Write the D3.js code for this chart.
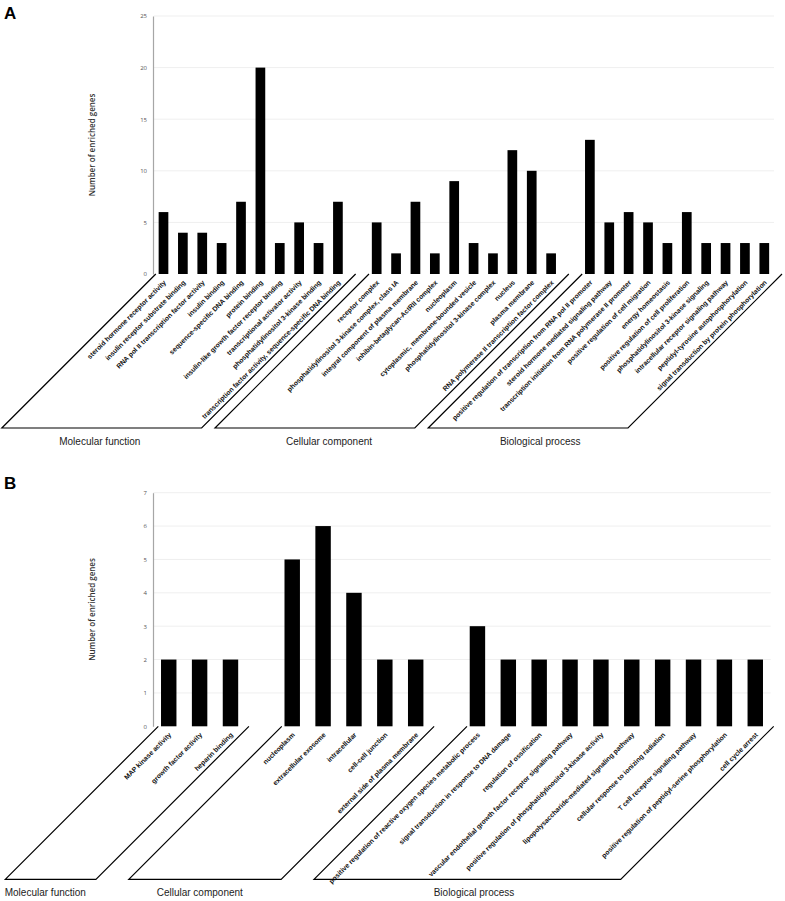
<!DOCTYPE html>
<html>
<head>
<meta charset="utf-8">
<script src="https://cdn.jsdelivr.net/npm/d3@7"></script>
<style>
  body { margin: 0; background: #fff; }
  svg { display: block; }
</style>
</head>
<body>
<div id="chart"></div>
<script>
// ---- data ----
const groupNames = ["Molecular function", "Cellular component", "Biological process"];

// panel A
const mfTermsA = [
  "steroid hormone receptor activity",
  "insulin receptor substrate binding",
  "RNA pol II transcription factor activity",
  "insulin binding",
  "sequence-specific DNA binding",
  "protein binding",
  "insulin-like growth factor receptor binding",
  "transcriptional activator activity",
  "phosphatidylinositol 3-kinase binding",
  "transcription factor activity, sequence-specific DNA binding"
];
const mfCountsA = [6, 4, 4, 3, 7, 20, 3, 5, 3, 7];
const ccTermsA = [
  "receptor complex",
  "phosphatidylinositol 3-kinase complex, class IA",
  "integral component of plasma membrane",
  "inhibin-betaglycan-ActRII complex",
  "nucleoplasm",
  "cytoplasmic, membrane-bounded vesicle",
  "phosphatidylinositol 3-kinase complex",
  "nucleus",
  "plasma membrane",
  "RNA polymerase II transcription factor complex"
];
const ccCountsA = [5, 2, 7, 2, 9, 3, 2, 12, 10, 2];
const bpTermsA = [
  "positive regulation of transcription from RNA pol II promoter",
  "steroid hormone mediated signaling pathway",
  "transcription initiation from RNA polymerase II promoter",
  "positive regulation of cell migration",
  "energy homeostasis",
  "positive regulation of cell proliferation",
  "phosphatidylinositol 3-kinase signaling",
  "intracellular receptor signaling pathway",
  "peptidyl-tyrosine autophosphorylation",
  "signal transduction by protein phosphorylation"
];
const bpCountsA = [13, 5, 6, 5, 3, 6, 3, 3, 3, 3];
const yTicksA = [0, 5, 10, 15, 20, 25];

// panel B
const mfTermsB = ["MAP kinase activity", "growth factor activity", "heparin binding"];
const mfCountsB = [2, 2, 2];
const ccTermsB = [
  "nucleoplasm",
  "extracellular exosome",
  "intracellular",
  "cell-cell junction",
  "external side of plasma membrane"
];
const ccCountsB = [5, 6, 4, 2, 2];
const bpTermsB = [
  "positive regulation of reactive oxygen species metabolic process",
  "signal transduction in response to DNA damage",
  "regulation of ossification",
  "vascular endothelial growth factor receptor signaling pathway",
  "positive regulation of phosphatidylinositol 3-kinase activity",
  "lipopolysaccharide-mediated signaling pathway",
  "cellular response to ionizing radiation",
  "T cell receptor signaling pathway",
  "positive regulation of peptidyl-serine phosphorylation",
  "cell cycle arrest"
];
const bpCountsB = [3, 2, 2, 2, 2, 2, 2, 2, 2, 2];
const yTicksB = [0, 1, 2, 3, 4, 5, 6, 7];

const W = 785, H = 901;

const svg = d3.select("#chart").append("svg")
    .attr("width", W)
    .attr("height", H);

function drawPanel(p) {
  // one slot per term, plus an empty slot between groups
  let slots = [];
  p.groups.forEach(function(g, gi) {
    if (gi > 0) slots.push({ key: "gap" + gi, gap: true });
    g.terms.forEach(function(t, i) {
      slots.push({ key: gi + ":" + t, term: t, value: g.counts[i], group: gi });
    });
  });

  var x = d3.scaleBand()
      .domain(slots.map(function(d) { return d.key; }))
      .range(p.xRange)
      .paddingInner(0.5)
      .paddingOuter(0.25);

  var y = d3.scaleLinear()
      .domain([0, d3.max(p.ticks)])
      .range(p.yRange);

  var g = svg.append("g");
  var y0 = y(0);
  var step = x.step();

  // gridlines
  g.selectAll("line.grid")
    .data(p.ticks.slice(1))
    .enter().append("line")
      .attr("class", "grid")
      .attr("x1", p.xRange[0]).attr("x2", p.xRange[1])
      .attr("y1", function(d) { return y(d); })
      .attr("y2", function(d) { return y(d); })
      .attr("stroke", "#efefef")
      .attr("stroke-width", 1);

  // y axis
  var yAxis = d3.axisLeft(y)
      .tickValues(p.ticks)
      .tickFormat(d3.format("d"))
      .tickSize(0)
      .tickPadding(6);
  var ax = g.append("g")
      .attr("transform", "translate(" + p.axisX + ",0)")
      .call(yAxis);
  ax.select(".domain").attr("stroke", "#a6a6a6").attr("stroke-width", 1.2);
  ax.selectAll("text")
      .attr("font-family", "'Open Sans', sans-serif")
      .attr("font-size", 6)
      .attr("fill", "#555");

  // y title
  g.append("text")
      .attr("transform", "translate(" + p.titleX + "," + (y.range()[0] + y.range()[1]) / 2 + ") rotate(-90)")
      .attr("text-anchor", "middle")
      .attr("dy", "0.35em")
      .attr("font-family", "'Open Sans', sans-serif")
      .attr("font-weight", 600)
      .attr("font-size", 8)
      .attr("fill", "#333")
      .text("Number of enriched genes");

  var bars = slots.filter(function(d) { return !d.gap; });

  g.selectAll("rect.bar")
    .data(bars)
    .enter().append("rect")
      .attr("class", "bar")
      .attr("x", function(d) { return x(d.key); })
      .attr("width", x.bandwidth())
      .attr("y", function(d) { return y(d.value); })
      .attr("height", function(d) { return y0 - y(d.value); })
      .attr("fill", "#000");

  // slanted category labels
  g.selectAll("text.term")
    .data(bars)
    .enter().append("text")
      .attr("class", "term")
      .attr("transform", function(d) {
        var cx = x(d.key) + x.bandwidth() / 2;
        return "translate(" + (cx + 3) + "," + (y0 + 9) + ") rotate(-45)";
      })
      .attr("text-anchor", "end")
      .attr("font-family", "'Liberation Sans', Arial, sans-serif")
      .attr("font-weight", "bold")
      .attr("font-size", 6.8)
      .attr("fill", "#111")
      .text(function(d) { return d.term; });

  // open parallelogram under each group
  var hh = p.boxHeight;
  p.groups.forEach(function(grp, gi) {
    var first = x(gi + ":" + grp.terms[0]) - step * 0.25;
    var last = x(gi + ":" + grp.terms[grp.terms.length - 1]) + step * 0.75;
    var tl = first + p.boxPad[0], tr = last + p.boxPad[1];
    var path = d3.path();
    path.moveTo(tl, y0);
    path.lineTo(tl - hh, y0 + hh);
    path.lineTo(tr - hh, y0 + hh);
    path.lineTo(tr, y0);
    g.append("path")
        .attr("d", path.toString())
        .attr("fill", "none")
        .attr("stroke", "#000")
        .attr("stroke-width", 1.2);

    g.append("text")
        .attr("x", tl - hh + p.labelDx[gi])
        .attr("y", y0 + hh + 17)
        .attr("text-anchor", "middle")
        .attr("font-family", "'Liberation Sans', Arial, sans-serif")
        .attr("font-size", 10)
        .attr("fill", "#222")
        .text(groupNames[gi]);
  });

  svg.append("text")
      .attr("x", 4)
      .attr("y", p.letterY)
      .attr("font-family", "'Liberation Sans', Arial, sans-serif")
      .attr("font-weight", "bold")
      .attr("font-size", 17)
      .text(p.letter);
}

drawPanel({
  letter: "A",
  letterY: 19,
  groups: [
    { terms: mfTermsA, counts: mfCountsA },
    { terms: ccTermsA, counts: ccCountsA },
    { terms: bpTermsA, counts: bpCountsA }
  ],
  ticks: yTicksA,
  xRange: [153.8, 774],
  yRange: [274, 16],
  axisX: 153,
  titleX: 92,
  boxHeight: 154,
  boxPad: [2, 8],
  labelDx: [98, 114, 112]
});

drawPanel({
  letter: "B",
  letterY: 489,
  groups: [
    { terms: mfTermsB, counts: mfCountsB },
    { terms: ccTermsB, counts: ccCountsB },
    { terms: bpTermsB, counts: bpCountsB }
  ],
  ticks: yTicksB,
  xRange: [153.3, 770.7],
  yRange: [726.3, 492.7],
  axisX: 153,
  titleX: 92,
  boxHeight: 153,
  boxPad: [5, 3],
  labelDx: [40, 71, 160]
});
</script>
</body>
</html>
